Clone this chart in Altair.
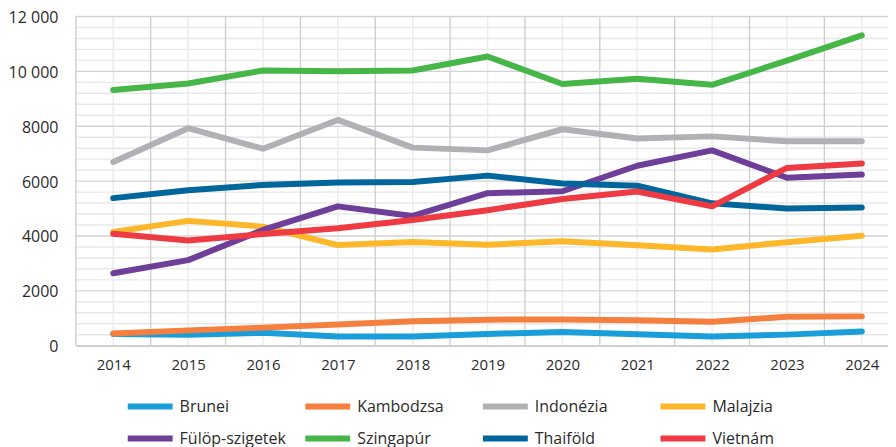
import altair as alt
import pandas as pd

years = [2014, 2015, 2016, 2017, 2018, 2019, 2020, 2021, 2022, 2023, 2024]
countries = ["Brunei", "Kambodzsa", "Indonézia", "Malajzia",
             "Fülöp-szigetek", "Szingapúr", "Thaiföld", "Vietnám"]
colors = ["#1A9ED9", "#F47F3E", "#B1B1B5", "#FDB72A",
          "#6E3F99", "#46B649", "#00669B", "#EE3A43"]

brunei = [430, 400, 470, 340, 340, 430, 500, 420, 335, 405, 520]
kambodzsa = [450, 560, 660, 770, 890, 950, 960, 925, 870, 1060, 1070]
indonezia = [6700, 7930, 7180, 8230, 7220, 7120, 7890, 7550, 7630, 7450, 7450]
malajzia = [4150, 4550, 4340, 3670, 3780, 3680, 3810, 3660, 3510, 3775, 4010]
fulop = [2640, 3120, 4220, 5080, 4730, 5560, 5630, 6560, 7120, 6120, 6240]
szingapur = [9320, 9560, 10030, 10000, 10030, 10540, 9540, 9730, 9510, 10390, 11310]
thaifold = [5380, 5670, 5860, 5950, 5970, 6200, 5910, 5830, 5190, 5000, 5040]
vietnam = [4080, 3835, 4070, 4280, 4580, 4940, 5350, 5620, 5080, 6480, 6640]

y_ticks = [0, 2000, 4000, 6000, 8000, 10000, 12000]
y_minor = [v for v in range(400, 12000, 400) if v % 2000 != 0]
x_major = [2013.5, 2014.5, 2015.5, 2016.5, 2017.5, 2018.5, 2019.5,
           2020.5, 2021.5, 2022.5, 2023.5]

series = [brunei, kambodzsa, indonezia, malajzia, fulop, szingapur, thaifold, vietnam]
rows = []
for c, vals in zip(countries, series):
    for yr, v in zip(years, vals):
        rows.append({"Év": yr, "Ország": c, "Érték": v})
df = pd.DataFrame(rows)

X_DOMAIN = [2013.5, 2024.35]
W = 814
H = 330

xs = alt.Scale(domain=X_DOMAIN, nice=False, zero=False)
ys = alt.Scale(domain=[0, 12000], nice=False)

x_axis = alt.Axis(values=years, format="d", grid=False, ticks=False,
                  domain=True, domainColor="#C8C8C8", domainWidth=1.5,
                  labelFontSize=15, labelPadding=12, labelFont="Open Sans",
                  labelColor="#2B2B2B")
y_axis = alt.Axis(values=y_ticks, format="d", grid=False, ticks=False,
                  domain=False, labelFontSize=16, labelPadding=18,
                  labelFont="Open Sans", labelColor="#2B2B2B", labelOffset=1,
                  labelExpr="datum.value >= 10000 ? floor(datum.value/1000) + ' 000' : datum.label")

minor_h = alt.Chart(pd.DataFrame({"v": y_minor})).mark_rule(
    color="#E8E8E8", strokeWidth=1.4
).encode(y=alt.Y("v:Q", scale=ys, axis=y_axis, title=None))

minor_v = alt.Chart(pd.DataFrame({"v": years})).mark_rule(
    color="#EBEBEB", strokeWidth=1.4
).encode(x=alt.X("v:Q", scale=xs, axis=x_axis, title=None))

major_v = alt.Chart(pd.DataFrame({"v": x_major})).mark_rule(
    color="#CDCDCD", strokeWidth=1.3
).encode(x=alt.X("v:Q", scale=xs, axis=x_axis, title=None))

major_h = alt.Chart(pd.DataFrame({"v": y_ticks})).mark_rule(
    color="#D3D3D3", strokeWidth=1.3
).encode(y=alt.Y("v:Q", scale=ys, axis=y_axis, title=None))

lines = alt.Chart(df).mark_line(
    strokeWidth=6, strokeCap="round", strokeJoin="round"
).encode(
    x=alt.X("Év:Q", scale=xs, title=None, axis=x_axis),
    y=alt.Y("Érték:Q", scale=ys, title=None, axis=y_axis),
    color=alt.Color("Ország:N", scale=alt.Scale(domain=countries, range=colors),
                    title=None,
                    legend=alt.Legend(orient="none", legendX=49, legendY=373,
                                      direction="horizontal", columns=4,
                                      gridAlign="all", columnPadding=7, rowPadding=2,
                                      symbolType="M-1,0H2", symbolSize=900,
                                      symbolStrokeWidth=6, labelOffset=19,
                                      labelFontSize=16, labelFont="Open Sans",
                                      labelColor="#2B2B2B", padding=0, labelLimit=300)),
)

chart = alt.layer(minor_h, minor_v, major_v, major_h, lines).properties(
    width=W, height=H,
    autosize=alt.AutoSizeParams(type="none"),
    padding={"left": 68, "top": 8, "right": 0, "bottom": 101},
).configure_view(stroke=None)

chart.save("out.html", embed_options={"renderer": "svg", "actions": False})
